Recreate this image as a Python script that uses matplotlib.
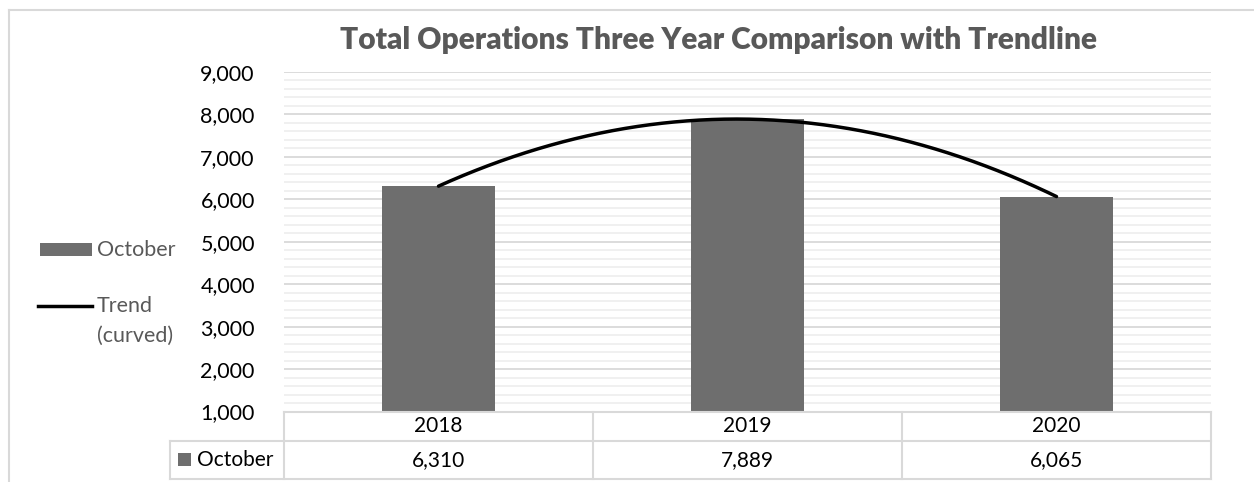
import numpy as np
import matplotlib.pyplot as plt
from matplotlib.lines import Line2D
from matplotlib.patches import Rectangle

years = ['2018', '2019', '2020']
october = [6310, 7889, 6065]
series_name = 'October'
trend_name = 'Trend\n(curved)'
title = 'Total Operations Three Year Comparison with Trendline'

W, H = 1254, 482
bar_color = '#6e6e6e'
grid_major = '#d9d9d9'
grid_minor = '#efefef'
text_gray = '#595959'
plt.rcParams['font.family'] = ['Lato', 'DejaVu Sans']

fig = plt.figure(figsize=(W / 100, H / 100), dpi=100)


def fx(px):
    return px / W


def fy(py):
    return 1 - py / H


# plot area in pixel terms
left, right, top, bottom = 284, 1211, 72, 411.5
ax = fig.add_axes([fx(left), fy(bottom), fx(right - left), fy(top) - fy(bottom)])

x = np.arange(len(years))
ax.bar(x, october, width=0.366, color=bar_color, zorder=3, bottom=0)

# second-order polynomial trendline between first and last category
coef = np.polyfit(x, october, 2)
xs = np.linspace(x[0], x[-1], 200)
ax.plot(xs, np.polyval(coef, xs), color='black', lw=2.5, zorder=4,
        solid_capstyle='round')

ax.set_xlim(-0.5, len(years) - 0.5)
ax.set_ylim(1000, 9000)
ax.set_yticks(np.arange(1000, 9001, 1000))
ax.set_yticks(np.arange(1000, 9001, 200), minor=True)
ax.yaxis.set_major_formatter(plt.FuncFormatter(lambda v, p: f'{int(v):,}'))
ax.tick_params(axis='y', which='both', length=0, pad=21, labelsize=15.5,
               labelcolor='black')
ax.set_xticks([])
ax.grid(axis='y', which='major', color=grid_major, lw=1.3, zorder=0)
ax.grid(axis='y', which='minor', color=grid_minor, lw=1.3, zorder=0)
for s in ax.spines.values():
    s.set_visible(False)

fig.text(fx(719), fy(40), title, ha='center', va='center', fontsize=21.5,
         fontweight='heavy', color=text_gray)

# outer chart frame (runs off the right and bottom)
fig.add_artist(Line2D([fx(9), fx(9)], [fy(10), 0], color='#d9d9d9', lw=1.5))
fig.add_artist(Line2D([fx(9), 1], [fy(10), fy(10)], color='#d9d9d9', lw=1.5))

# legend on the left
fig.add_artist(Rectangle((fx(40), fy(256)), fx(52), fy(243) - fy(256),
                         color=bar_color, lw=0))
fig.text(fx(97), fy(250), series_name, ha='left', va='center', fontsize=15.5,
         color=text_gray)
fig.add_artist(Line2D([fx(38), fx(92)], [fy(306), fy(306)], color='black',
                      lw=2.5))
fig.text(fx(97), fy(306), 'Trend', ha='left', va='center', fontsize=15.5,
         color=text_gray)
fig.text(fx(97), fy(336), '(curved)', ha='left', va='center', fontsize=15.5,
         color=text_gray)

# data table under the plot
line_kw = dict(color='#d9d9d9', lw=1.5)
row1, row2, row3 = 411.5, 441, 478.5
label_left = 170
col_w = (right - left) / len(years)
fig.add_artist(Line2D([fx(left), fx(right)], [fy(row1), fy(row1)], **line_kw))
fig.add_artist(Line2D([fx(label_left), fx(right)], [fy(row2), fy(row2)], **line_kw))
fig.add_artist(Line2D([fx(label_left), fx(right)], [fy(row3), fy(row3)], **line_kw))
fig.add_artist(Line2D([fx(label_left), fx(label_left)], [fy(row2), fy(row3)], **line_kw))
for i in range(len(years) + 1):
    xc = left + i * col_w
    fig.add_artist(Line2D([fx(xc), fx(xc)], [fy(row1), fy(row3)], **line_kw))
for i, (yr, val) in enumerate(zip(years, october)):
    xc = left + (i + 0.5) * col_w
    fig.text(fx(xc), fy((row1 + row2) / 2), yr, ha='center', va='center',
             fontsize=15, color='black')
    fig.text(fx(xc), fy((row2 + row3) / 2), f'{val:,}', ha='center',
             va='center', fontsize=15, color='black')
fig.add_artist(Rectangle((fx(178), fy(466)), fx(13), fy(453) - fy(466),
                         color=bar_color, lw=0))
fig.text(fx(197), fy(460), series_name, ha='left', va='center', fontsize=15,
         color='black')

fig.savefig('out.png', dpi=100)
